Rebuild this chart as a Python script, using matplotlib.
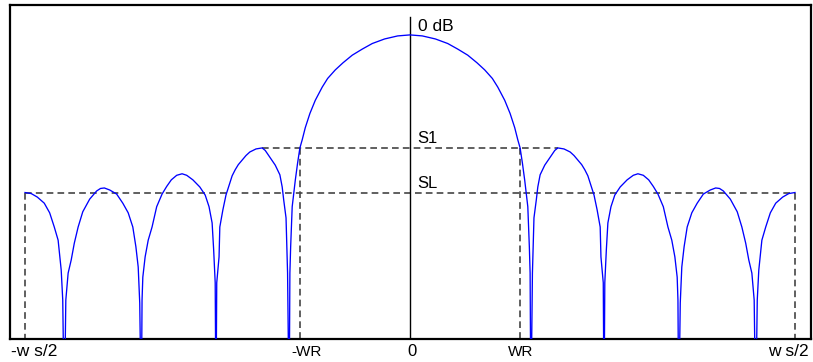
import numpy as np
import matplotlib
matplotlib.use("Agg")
import matplotlib.pyplot as plt

plt.rcParams['font.family'] = ['Liberation Sans', 'DejaVu Sans']

# right half of the response (normalised frequency w/ws, level in dB)
freq = [0.000, 0.016, 0.033, 0.049, 0.062, 0.075, 0.087, 0.097, 0.107, 0.114,
        0.123, 0.130, 0.136, 0.140, 0.143, 0.146, 0.149, 0.153, 0.155, 0.156,
        0.157, 0.159, 0.161, 0.164, 0.166, 0.169, 0.175, 0.180, 0.184, 0.188,
        0.192, 0.200, 0.208, 0.213, 0.218, 0.223, 0.227, 0.231, 0.234, 0.239,
        0.243, 0.247, 0.248, 0.251, 0.252, 0.253, 0.255, 0.257, 0.261, 0.266,
        0.273, 0.282, 0.290, 0.296, 0.303, 0.310, 0.316, 0.322, 0.329, 0.335,
        0.340, 0.344, 0.347, 0.348, 0.349, 0.351, 0.353, 0.356, 0.360, 0.366,
        0.373, 0.381, 0.390, 0.397, 0.402, 0.407, 0.416, 0.425, 0.431, 0.436,
        0.440, 0.444, 0.447, 0.449, 0.451, 0.453, 0.457, 0.462, 0.468, 0.475,
        0.484, 0.492, 0.500]
level = [0.0, -0.2, -0.8, -1.7, -2.8, -4.0, -5.5, -6.9, -8.6, -10.3,
         -12.9, -15.5, -18.3, -20.7, -22.3, -25.3, -28.7, -33.9, -41.8, -47.0,
         -75.0, -47.0, -36.1, -32.6, -30.0, -27.6, -25.7, -24.6, -23.7, -22.8,
         -22.3, -22.5, -23.1, -23.8, -24.7, -25.6, -26.6, -27.8, -29.2, -31.6,
         -34.5, -37.9, -43.8, -48.9, -75.0, -48.9, -42.4, -37.1, -33.9, -31.6,
         -30.0, -28.6, -27.7, -27.4, -27.7, -28.6, -29.9, -31.4, -33.9, -37.9,
         -40.5, -43.8, -47.8, -52.3, -75.0, -52.9, -45.8, -41.8, -37.9, -35.1,
         -33.2, -31.4, -30.6, -30.2, -30.3, -30.8, -32.4, -34.9, -37.9, -41.1,
         -44.4, -47.0, -52.3, -75.0, -52.3, -46.4, -40.5, -37.9, -35.1, -33.2,
         -32.0, -31.3, -31.1]

s1_level = -22.3
s1_freq = 0.192
sl_level = -31.1
wr = 0.143
ws_half = 0.5
floor_db = -60.0

freq = np.array(freq)
level = np.array(level)
f_all = np.concatenate([-freq[:0:-1], freq])
l_all = np.concatenate([level[:0:-1], level])

fig = plt.figure(figsize=(8.13, 3.62), dpi=100)
ax = fig.add_axes([10 / 813, 23 / 362, 801 / 813, 334 / 362])

ax.plot(f_all, l_all, color='#0000ff', lw=0.95, zorder=3)

# center axis
ax.plot([0, 0], [floor_db, 3.5], color='black', lw=1.0, zorder=2)

dash = dict(color='#444444', lw=1.2, dashes=(4, 2.5), zorder=1)
ax.plot([-s1_freq, s1_freq], [s1_level, s1_level], **dash)
ax.plot([-wr, -wr], [s1_level, floor_db], **dash)
ax.plot([wr, wr], [s1_level, floor_db], **dash)
ax.plot([-ws_half, ws_half], [sl_level, sl_level], **dash)
ax.plot([-ws_half, -ws_half], [sl_level, floor_db], **dash)
ax.plot([ws_half, ws_half], [sl_level, floor_db], **dash)

ax.set_xlim(-0.5195, 0.5208)
ax.set_ylim(floor_db, 5.9)
ax.set_xticks([])
ax.set_yticks([])
for sp in ax.spines.values():
    sp.set_linewidth(1.6)
    sp.set_color('black')

ax.text(0.010, 1.6, "0 dB", fontsize=12.5, ha='left', va='center')
ax.text(0.009, -20.4, "S1", fontsize=12, ha='left', va='center')
ax.text(0.009, -29.3, "SL", fontsize=12, ha='left', va='center')

tr = ax.get_xaxis_transform()
ax.text(-0.488, -0.038, "-w s/2", fontsize=12.5, ha='center', va='center', transform=tr, clip_on=False)
ax.text(0.465, -0.038, "w s/2", fontsize=12.5, ha='left', va='center', transform=tr, clip_on=False)
ax.text(-0.134, -0.038, "-WR", fontsize=11, ha='center', va='center', transform=tr, clip_on=False)
ax.text(0.003, -0.038, "0", fontsize=12, ha='center', va='center', transform=tr, clip_on=False)
ax.text(0.144, -0.038, "WR", fontsize=11, ha='center', va='center', transform=tr, clip_on=False)

fig.savefig("out.png", dpi=100)
